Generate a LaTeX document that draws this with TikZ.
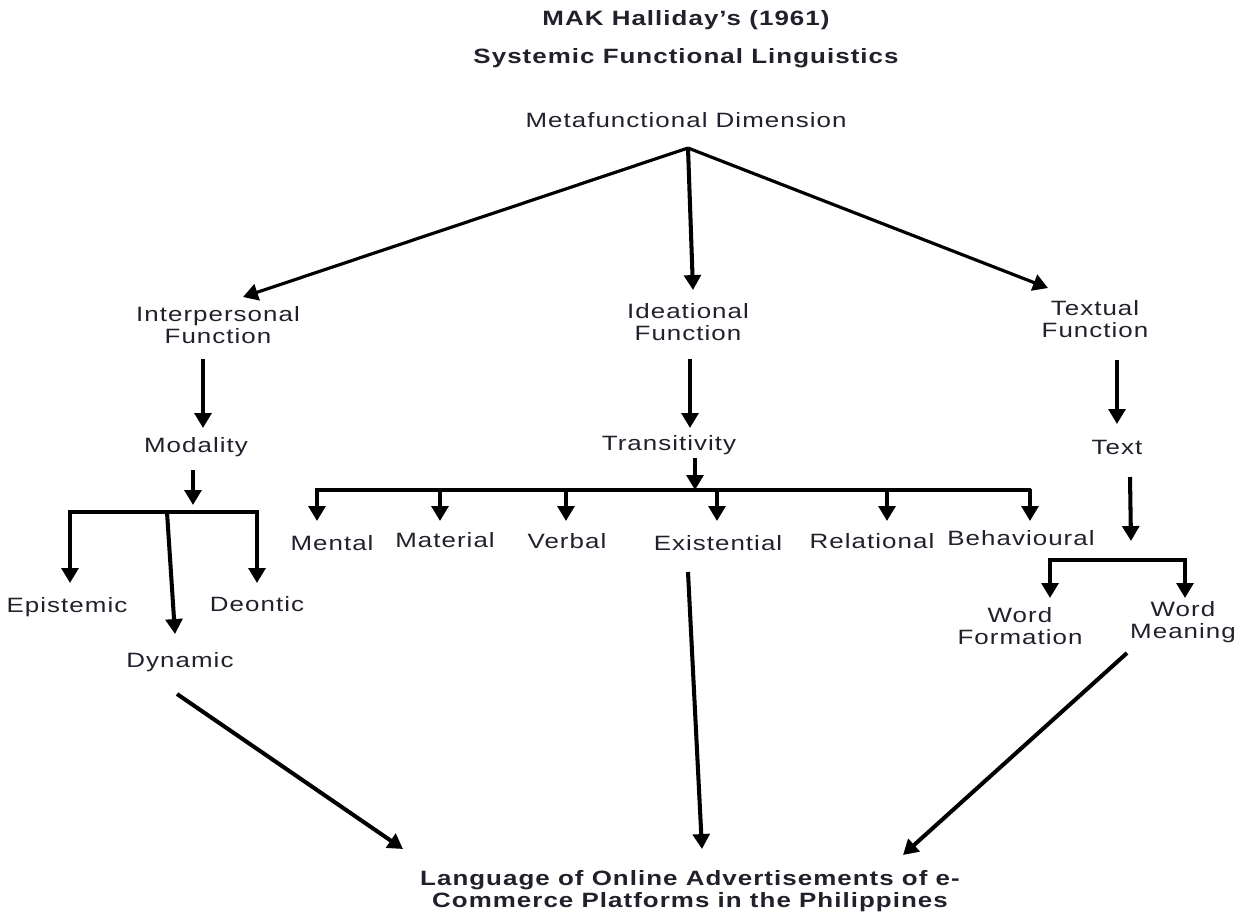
\documentclass[tikz,border=0pt]{standalone}
\usepackage{fontspec}
\setmainfont[FakeStretch=1.25,LetterSpace=5]{Liberation Sans}
\usepackage{tikz}
\usetikzlibrary{arrows.meta}
\definecolor{ink}{RGB}{34, 32, 42}

\begin{document}
\begin{tikzpicture}[x=0.02cm, y=-0.02cm, >={Triangle[width=9.5pt,length=8.5pt]}, line join=miter,
  lbl/.style={font=\fontsize{11.8}{12.4}\selectfont, text=ink, align=center, inner sep=1pt},
  ttl/.style={lbl, font=\fontsize{11.8}{12.4}\selectfont\bfseries},
  arr/.style={->, line width=2.3pt},
  fan/.style={->, line width=1.8pt},
  bar/.style={line width=2.3pt}]
  \useasboundingbox (0,0) rectangle (1242,913);

  % Titles
  \node[ttl] (title) at (686,20) {MAK Halliday's (1961)};
  \node[ttl] (subtitle) at (686,58) {Systemic Functional Linguistics};
  \node[lbl] (meta) at (686,120) {Metafunctional Dimension};

  % Three functions
  \node[lbl] (inter) at (218,325) {Interpersonal\\Function};
  \node[lbl] (ideat) at (688,322) {Ideational\\Function};
  \node[lbl] (textual) at (1095,319) {Textual\\Function};
  \coordinate (apex) at (688,148);
  \coordinate (interTip) at (243,297);
  \coordinate (ideatTip) at (693,290);
  \coordinate (textualTip) at (1048,288);
  \draw[fan] (apex) -- (interTip);
  \draw[arr] (apex) -- (ideatTip);
  \draw[fan] (apex) -- (textualTip);

  % Interpersonal branch
  \node[lbl] (modal) at (196,447) {Modality};
  \node[lbl] (epist) at (67,607) {Epistemic};
  \node[lbl] (deont) at (257,604) {Deontic};
  \node[lbl] (dynam) at (180,662) {Dynamic};
  \coordinate (interOut) at (203,359);
  \coordinate (modalIn) at (203,428);
  \draw[arr] (interOut) -- (modalIn);
  \coordinate (modalOut) at (193,470);
  \coordinate (modalBar) at (193,505);
  \draw[arr] (modalOut) -- (modalBar);
  \coordinate (epistIn) at (70,583);
  \coordinate (deontIn) at (257,583);
  \draw[bar, <->] (epistIn) -- (70,512) -- (257,512) -- (deontIn);
  \coordinate (dynamTop) at (167,512);
  \coordinate (dynamIn) at (175,634);
  \draw[arr] (dynamTop) -- (dynamIn);

  % Ideational branch
  \node[lbl] (trans) at (669,445) {Transitivity};
  \coordinate (ideatOut) at (690,359);
  \coordinate (transIn) at (690,428);
  \draw[arr] (ideatOut) -- (transIn);
  \coordinate (transOut) at (695,458);
  \coordinate (transBar) at (695,490);
  \draw[arr] (transOut) -- (transBar);
  \draw[bar] (315,490) -- (1031,490);
  \node[lbl] (mental) at (332,543) {Mental};
  \node[lbl] (mater) at (445,540) {Material};
  \node[lbl] (verbal) at (567,541) {Verbal};
  \node[lbl] (exist) at (718,543) {Existential};
  \node[lbl] (relat) at (872,541) {Relational};
  \node[lbl] (behav) at (1021,538) {Behavioural};
  \draw[arr] (317,489) -- (317,521);
  \draw[arr] (440,489) -- (440,521);
  \draw[arr] (566,489) -- (566,521);
  \draw[arr] (717,489) -- (717,521);
  \draw[arr] (887,489) -- (887,521);
  \draw[arr] (1030,489) -- (1030,521);

  % Textual branch
  \node[lbl] (text) at (1117,447) {Text};
  \coordinate (textualOut) at (1117,360);
  \coordinate (textIn) at (1117,424);
  \draw[arr] (textualOut) -- (textIn);
  \coordinate (textOut) at (1130,477);
  \coordinate (textBar) at (1131,541);
  \draw[arr] (textOut) -- (textBar);
  \node[lbl] (wform) at (1020,626) {Word\\Formation};
  \node[lbl] (wmean) at (1183,622) {Word\\Meaning};
  \coordinate (wformIn) at (1050,598);
  \coordinate (wmeanIn) at (1185,598);
  \draw[bar, <->] (wformIn) -- (1050,560) -- (1185,560) -- (wmeanIn);

  % Converging arrows
  \node[ttl] (lang) at (690,891) {Language of Online Advertisements of e-\\Commerce Platforms in the Philippines};
  \coordinate (dynamOut) at (177,694);
  \coordinate (langLeft) at (403,849);
  \coordinate (existOut) at (688,572);
  \coordinate (langMid) at (702,849);
  \coordinate (wmeanOut) at (1127,653);
  \coordinate (langRight) at (903,855);
  \draw[arr] (dynamOut) -- (langLeft);
  \draw[arr] (existOut) -- (langMid);
  \draw[arr] (wmeanOut) -- (langRight);
\end{tikzpicture}
\end{document}
